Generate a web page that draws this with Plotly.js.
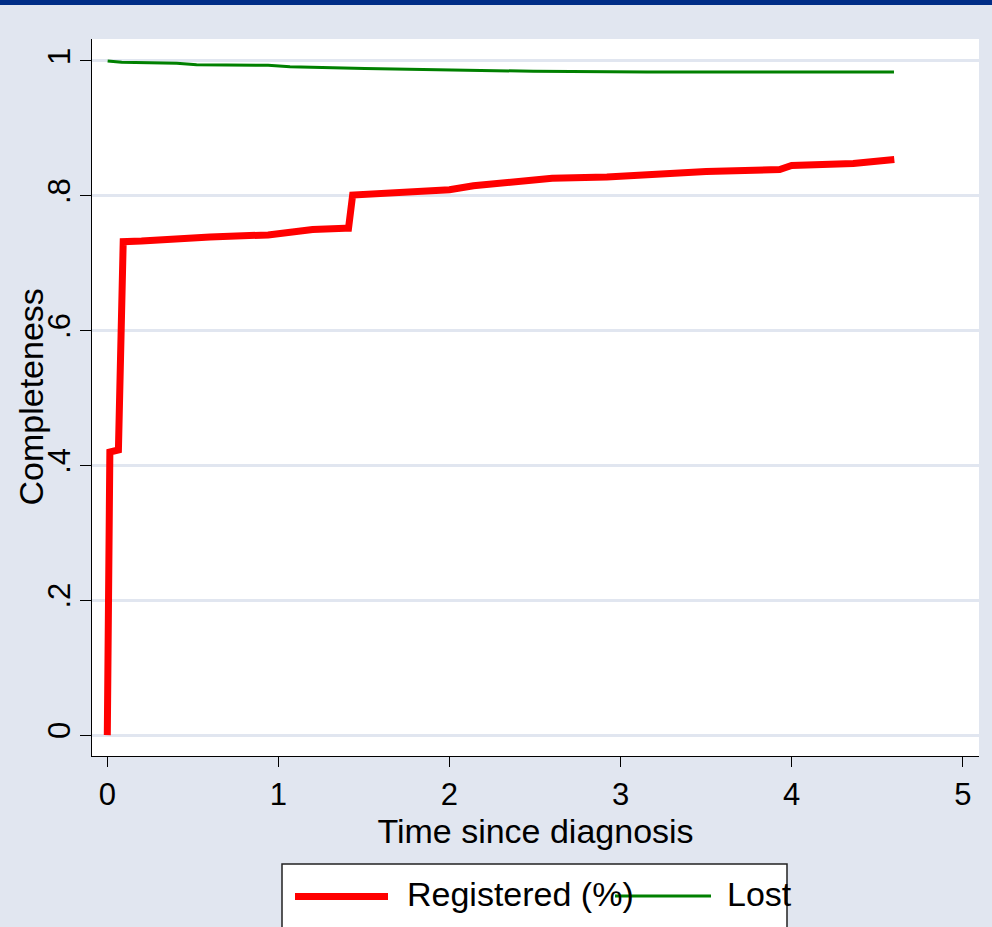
<!DOCTYPE html>
<html>
<head>
<meta charset="utf-8">
<script src="https://cdn.plot.ly/plotly-3.0.1.min.js"></script>
<style>
  html, body { margin: 0; padding: 0; background: #E1E6F0; }
  #chart { width: 992px; height: 927px; }
</style>
</head>
<body>
<div id="chart"></div>
<script>
// Registered (%) completeness curve
const regTime = [0, 0.003, 0.015, 0.065, 0.08, 0.093, 0.2, 0.38, 0.6, 0.94, 1.0, 1.1, 1.2, 1.39, 1.41, 1.434, 1.6, 1.8, 2.0, 2.14, 2.4, 2.6, 2.92, 3.2, 3.5, 3.93, 4.0, 4.36, 4.6];
const regValue = [0, 0.17, 0.42, 0.423, 0.58, 0.732, 0.733, 0.736, 0.739, 0.742, 0.744, 0.748, 0.750, 0.752, 0.752, 0.801, 0.804, 0.807, 0.809, 0.815, 0.82, 0.826, 0.828, 0.833, 0.836, 0.839, 0.845, 0.848, 0.854];

// Lost curve
const lostTime = [0.002, 0.084, 0.406, 0.522, 0.94, 1.068, 1.506, 2.05, 2.277, 2.49, 3.155, 4.598];
const lostValue = [1.0, 0.998, 0.9966, 0.9945, 0.9936, 0.9915, 0.989, 0.9866, 0.985, 0.9847, 0.9837, 0.9837];

// Axis ticks
const xTicks = [0, 1, 2, 3, 4, 5];
const xTickText = ['0', '1', '2', '3', '4', '5'];
const yTicks = [0, 0.2, 0.4, 0.6, 0.8, 1];
const yTickText = ['0', '.2', '.4', '.6', '.8', '1'];

const seriesNames = ['Registered (%)', 'Lost'];
const xTitle = 'Time since diagnosis';
const yTitle = 'Completeness';

const W = 992, H = 927;
const L = 92, R = 979, T = 39, B = 756;
const px = v => (v - L) / (R - L);
const py = v => (B - v) / (B - T);

const FONT = 'Liberation Sans, Arial, Helvetica, sans-serif';

const traces = [
  {
    x: regTime, y: regValue, name: seriesNames[0], type: 'scatter', mode: 'lines',
    line: { color: '#FF0000', width: 7 }, showlegend: false
  },
  {
    x: lostTime, y: lostValue, name: seriesNames[1], type: 'scatter', mode: 'lines',
    line: { color: '#008000', width: 3 }, showlegend: false
  }
];

const layout = {
  width: W, height: H,
  paper_bgcolor: '#E1E6F0',
  plot_bgcolor: '#FFFFFF',
  margin: { l: L, r: W - R, t: T, b: H - B, pad: 0 },
  font: { family: FONT, color: '#000000', size: 31 },
  showlegend: false,
  xaxis: {
    range: [-0.0894, 5.095],
    tickvals: xTicks, ticktext: xTickText,
    ticks: 'outside', ticklen: 10, tickwidth: 1, tickcolor: '#000000',
    showline: true, linecolor: '#000000', linewidth: 1,
    showgrid: false, zeroline: false,
    tickfont: { size: 31, family: FONT },
    ticklabelstandoff: 1,
    title: { text: xTitle, font: { size: 34, family: FONT }, standoff: 0 },
    automargin: false
  },
  yaxis: {
    range: [-0.031, 1.0326],
    tickvals: yTicks, ticktext: yTickText, tickangle: -90,
    ticks: 'outside', ticklen: 11, tickwidth: 1, tickcolor: '#000000',
    showline: true, linecolor: '#000000', linewidth: 1,
    showgrid: true, gridcolor: '#E1E6F0', gridwidth: 3,
    zeroline: false,
    tickfont: { size: 31, family: FONT },
    ticklabelstandoff: -2,
    automargin: false
  },
  shapes: [
    // top navy band
    { type: 'rect', xref: 'paper', yref: 'paper', x0: px(0), x1: px(W), y0: py(5), y1: py(-2),
      fillcolor: '#002D87', line: { width: 0 }, layer: 'above' },
    // legend box
    { type: 'rect', xref: 'paper', yref: 'paper', x0: px(282), x1: px(787), y0: py(864), y1: py(940),
      fillcolor: '#FFFFFF', line: { color: '#222222', width: 1.5 }, layer: 'above' },
    // legend samples
    { type: 'line', xref: 'paper', yref: 'paper', x0: px(295), x1: px(388), y0: py(896.5), y1: py(896.5),
      line: { color: '#FF0000', width: 7 }, layer: 'above' },
    { type: 'line', xref: 'paper', yref: 'paper', x0: px(615), x1: px(711), y0: py(896), y1: py(896),
      line: { color: '#008000', width: 3 }, layer: 'above' }
  ],
  annotations: [
    // y-axis title
    { xref: 'paper', yref: 'paper', x: px(30), y: py(397.5), xanchor: 'center', yanchor: 'middle',
      textangle: -90, text: yTitle, showarrow: false, font: { size: 34, family: FONT, color: '#000000' } },
    // legend labels
    { xref: 'paper', yref: 'paper', x: px(405), y: py(894), xanchor: 'left', yanchor: 'middle',
      text: seriesNames[0], showarrow: false, font: { size: 34, family: FONT, color: '#000000' } },
    { xref: 'paper', yref: 'paper', x: px(725), y: py(894), xanchor: 'left', yanchor: 'middle',
      text: seriesNames[1], showarrow: false, font: { size: 34, family: FONT, color: '#000000' } }
  ]
};

Plotly.newPlot('chart', traces, layout, { staticPlot: true, displayModeBar: false });
</script>
</body>
</html>
